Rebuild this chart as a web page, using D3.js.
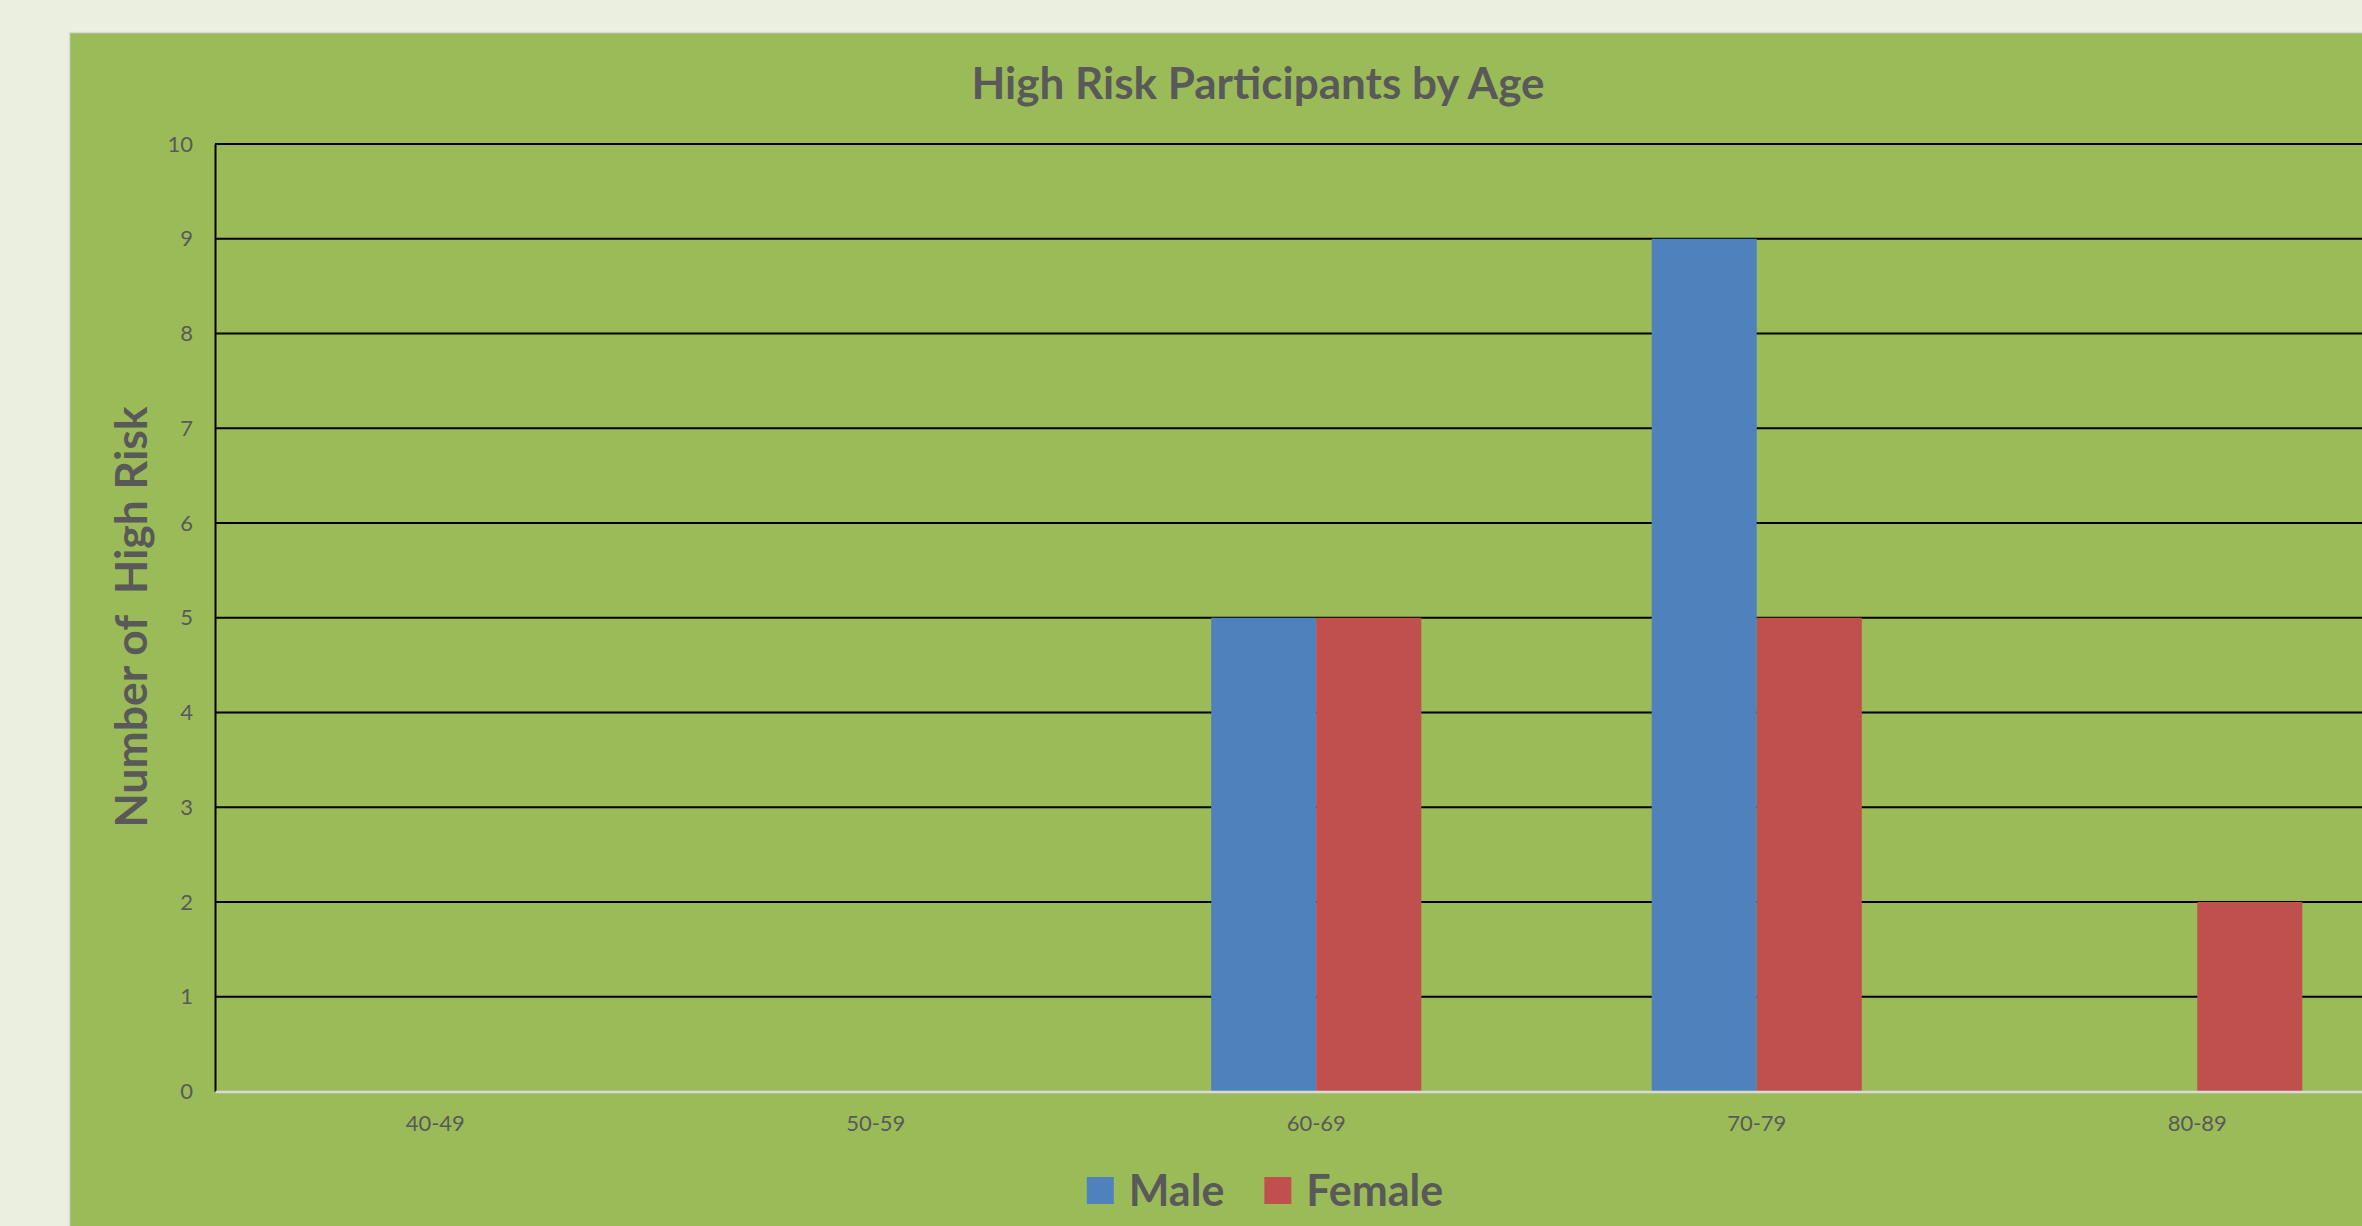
<!DOCTYPE html>
<html>
<head>
<meta charset="utf-8">
<script src="https://cdn.jsdelivr.net/npm/d3@7"></script>
<style>
  html, body { margin: 0; padding: 0; background: #ebefdf; overflow: hidden; }
  svg { display: block; }
  text { font-family: Lato, "Open Sans", sans-serif; fill: #595959; }
</style>
</head>
<body>
<svg id="chart" width="2362" height="1226"></svg>
<script>
const categories = ["40-49", "50-59", "60-69", "70-79", "80-89"];
const seriesNames = ["Male", "Female"];
const maleValues = [0, 0, 5, 9, 0];
const femaleValues = [0, 0, 5, 5, 2];
const yTicks = [0, 1, 2, 3, 4, 5, 6, 7, 8, 9, 10];
const colors = { Male: "#4f81bd", Female: "#c0504d" };
const titleText = "High Risk Participants by Age";
const yTitleText = "Number of  High Risk";

const svg = d3.select("#chart");

// panel
svg.append("rect")
  .attr("x", 69.5).attr("y", 32.5)
  .attr("width", 2500).attr("height", 1300)
  .attr("fill", "#9bbb59")
  .attr("stroke", "#d9d9d9").attr("stroke-width", 1.5);

const plotLeft = 215, plotTop = 144, plotBottom = 1091.5;
const bandW = 440.5;

const x0 = d3.scaleBand().domain(categories).range([plotLeft, plotLeft + bandW * categories.length]).padding(0);
const y = d3.scaleLinear().domain([0, 10]).range([plotBottom, plotTop]);
const barW = x0.bandwidth() * 0.2385;
const x1 = d3.scaleBand().domain(seriesNames)
  .range([x0.bandwidth() / 2 - barW, x0.bandwidth() / 2 + barW]).padding(0);

// gridlines
svg.append("g")
  .selectAll("line")
  .data(yTicks.filter(d => d > 0))
  .join("line")
  .attr("x1", plotLeft).attr("x2", 2420)
  .attr("y1", d => y(d)).attr("y2", d => y(d))
  .attr("stroke", "#000").attr("stroke-width", 2);

// y axis
const yAxis = d3.axisLeft(y).tickValues(yTicks).tickSize(0).tickPadding(22);
const gy = svg.append("g").attr("transform", `translate(${plotLeft},0)`).call(yAxis);
gy.select(".domain").attr("stroke", "#000").attr("stroke-width", 2);
gy.selectAll("text").style("font-size", "22px").style("font-family", "Lato, sans-serif").attr("fill", "#595959");

// bars
const data = categories.map((c, i) => ({ cat: c, Male: maleValues[i], Female: femaleValues[i] }));
const groups = svg.append("g").selectAll("g")
  .data(data).join("g")
  .attr("transform", d => `translate(${x0(d.cat)},0)`);
groups.selectAll("rect")
  .data(d => seriesNames.map(s => ({ s, v: d[s] })))
  .join("rect")
  .attr("x", d => x1(d.s))
  .attr("width", x1.bandwidth())
  .attr("y", d => y(d.v))
  .attr("height", d => y(0) - y(d.v))
  .attr("fill", d => colors[d.s]);

// x axis
const xAxis = d3.axisBottom(x0).tickSize(0).tickPadding(24);
const gx = svg.append("g").attr("transform", `translate(0,${plotBottom})`).call(xAxis);
gx.select(".domain").attr("stroke", "#d9d9d9").attr("stroke-width", 2.5);
gx.selectAll("text").style("font-size", "22px").style("font-family", "Lato, sans-serif").attr("fill", "#595959");

// title
svg.append("text")
  .attr("x", 1258).attr("y", 99)
  .attr("text-anchor", "middle")
  .style("font-size", "44px").style("font-weight", "bold")
  .text(titleText);

// y title
svg.append("text")
  .attr("transform", "translate(147,617) rotate(-90)")
  .attr("text-anchor", "middle")
  .style("font-size", "44.5px").style("font-weight", "bold")
  .style("white-space", "pre")
  .attr("xml:space", "preserve")
  .text(yTitleText);

// legend
const legend = svg.append("g");
const items = legend.selectAll("g").data(seriesNames).join("g");
items.append("rect").attr("width", 27).attr("height", 27).attr("y", 1177).attr("fill", d => colors[d]);
items.append("text").attr("y", 1206).style("font-size", "43px").style("font-weight", "bold").text(d => d);
const widths = [];
items.each(function () {
  widths.push(d3.select(this).select("text").node().getComputedTextLength());
});
const total = widths.reduce((a, w) => a + 27 + 15 + w, 0) + 40 * (seriesNames.length - 1);
let start = 1265 - total / 2;
items.each(function (d, i) {
  const g = d3.select(this);
  g.select("rect").attr("x", start);
  g.select("text").attr("x", start + 27 + 15);
  start += 27 + 15 + widths[i] + 40;
});
</script>
</body>
</html>
